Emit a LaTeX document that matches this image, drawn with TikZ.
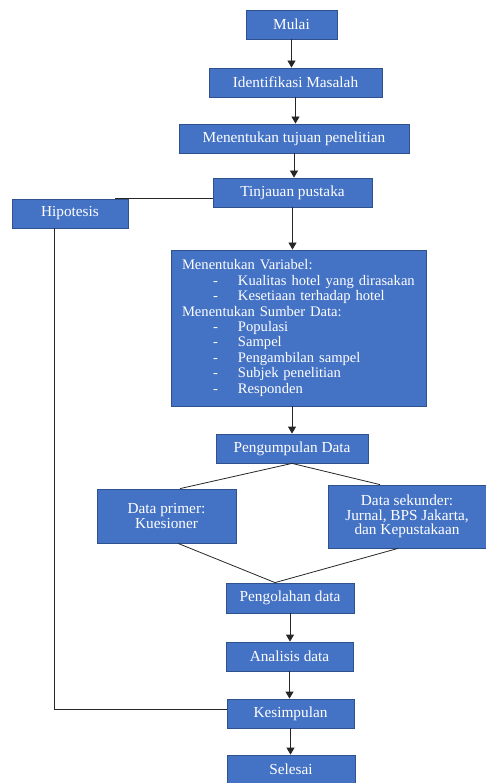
\documentclass[tikz,border=0pt]{standalone}
\usepackage{fontspec}
\setmainfont{Liberation Serif}
\usetikzlibrary{arrows.meta}
\definecolor{biru}{HTML}{4472C4}
\definecolor{birutua}{HTML}{2F528F}
\newcommand{\butir}[1]{\makebox[56pt][l]{\hspace*{31pt}-}#1}

\begin{document}
\begin{tikzpicture}[x=1pt,y=-1pt]
\tikzset{kotak/.style={draw=birutua, fill=biru, text=white, line width=0.8pt, inner sep=2pt,
    font=\fontsize{15.3}{14.5}\selectfont, align=center},
  garis/.style={draw=black!85, line width=0.8pt},
  panah/.style={garis, -{Triangle[length=7pt,width=8pt]}}}
\useasboundingbox (0,0) rectangle (486,783);
\node[kotak, minimum width=91pt, minimum height=29pt] (mulai) at (291.5,24.5) {Mulai};
\node[kotak, minimum width=173pt, minimum height=29pt] (identifikasi) at (295.5,82.5) {Identifikasi Masalah};
\node[kotak, minimum width=230pt, minimum height=29pt] (tujuan) at (294,138.5) {Menentukan tujuan penelitian};
\node[kotak, minimum width=159pt, minimum height=29pt] (tinjauan) at (292.5,192.5) {Tinjauan pustaka};
\node[kotak, minimum width=116pt, minimum height=29pt] (hipotesis) at (70,213.5) {Hipotesis};
\node[kotak, minimum width=255pt, minimum height=156pt, align=left, text width=233pt,
  font=\fontsize{14.6}{15.4}\selectfont] (variabel) at (298.5,328)
  {Menentukan Variabel:\\
   \butir{Kualitas hotel yang dirasakan}\\
   \butir{Kesetiaan terhadap hotel}\\
   Menentukan Sumber Data:\\
   \butir{Populasi}\\
   \butir{Sampel}\\
   \butir{Pengambilan sampel}\\
   \butir{Subjek penelitian}\\
   \butir{Responden}};
\node[kotak, minimum width=152pt, minimum height=29pt] (pengumpulan) at (292,448.5) {Pengumpulan Data};
\node[kotak, minimum width=139pt, minimum height=54pt] (primer) at (166.5,516) {Data primer:\\Kuesioner};
\node[kotak, minimum width=158pt, minimum height=63pt] (sekunder) at (407,516.5) {Data sekunder:\\Jurnal, BPS Jakarta,\\dan Kepustakaan};
\node[kotak, minimum width=128pt, minimum height=30pt] (pengolahan) at (290,598) {Pengolahan data};
\node[kotak, minimum width=127pt, minimum height=29pt] (analisis) at (289.5,656.5) {Analisis data};
\node[kotak, minimum width=127pt, minimum height=29pt] (kesimpulan) at (290.5,713.5) {Kesimpulan};
\node[kotak, minimum width=128pt, minimum height=29pt] (selesai) at (291,769.5) {Selesai};
% alur utama
\draw[panah] (mulai.south) -- (mulai.south |- identifikasi.north);
\draw[panah] (identifikasi.south) -- (identifikasi.south |- tujuan.north);
\draw[panah] (tujuan.south) -- (tujuan.south |- tinjauan.north);
\draw[panah] (tinjauan.south) -- (tinjauan.south |- variabel.north);
\draw[panah] (pengumpulan.north |- variabel.south) -- (pengumpulan.north);
\draw[garis] (pengumpulan.south) -- ([xshift=13.5pt]primer.north);
\draw[garis] (pengumpulan.south) -- ([xshift=-27pt]sekunder.north);
\draw[garis] ([xshift=11.5pt]primer.south) -- ([xshift=-15pt]pengolahan.north);
\draw[garis] ([xshift=-9pt]sekunder.south) -- ([xshift=-15pt]pengolahan.north);
\draw[panah] (pengolahan.south) -- (pengolahan.south |- analisis.north);
\draw[panah] (analisis.south) -- (analisis.south |- kesimpulan.north);
\draw[panah] (kesimpulan.south) -- (kesimpulan.south |- selesai.north);
% hipotesis
\draw[garis] (tinjauan.west |- hipotesis.north) -- ([xshift=-13pt]hipotesis.north east);
\draw[garis] ([xshift=-16pt]hipotesis.south) |- ([yshift=4.5pt]kesimpulan.west);
\end{tikzpicture}
\end{document}
